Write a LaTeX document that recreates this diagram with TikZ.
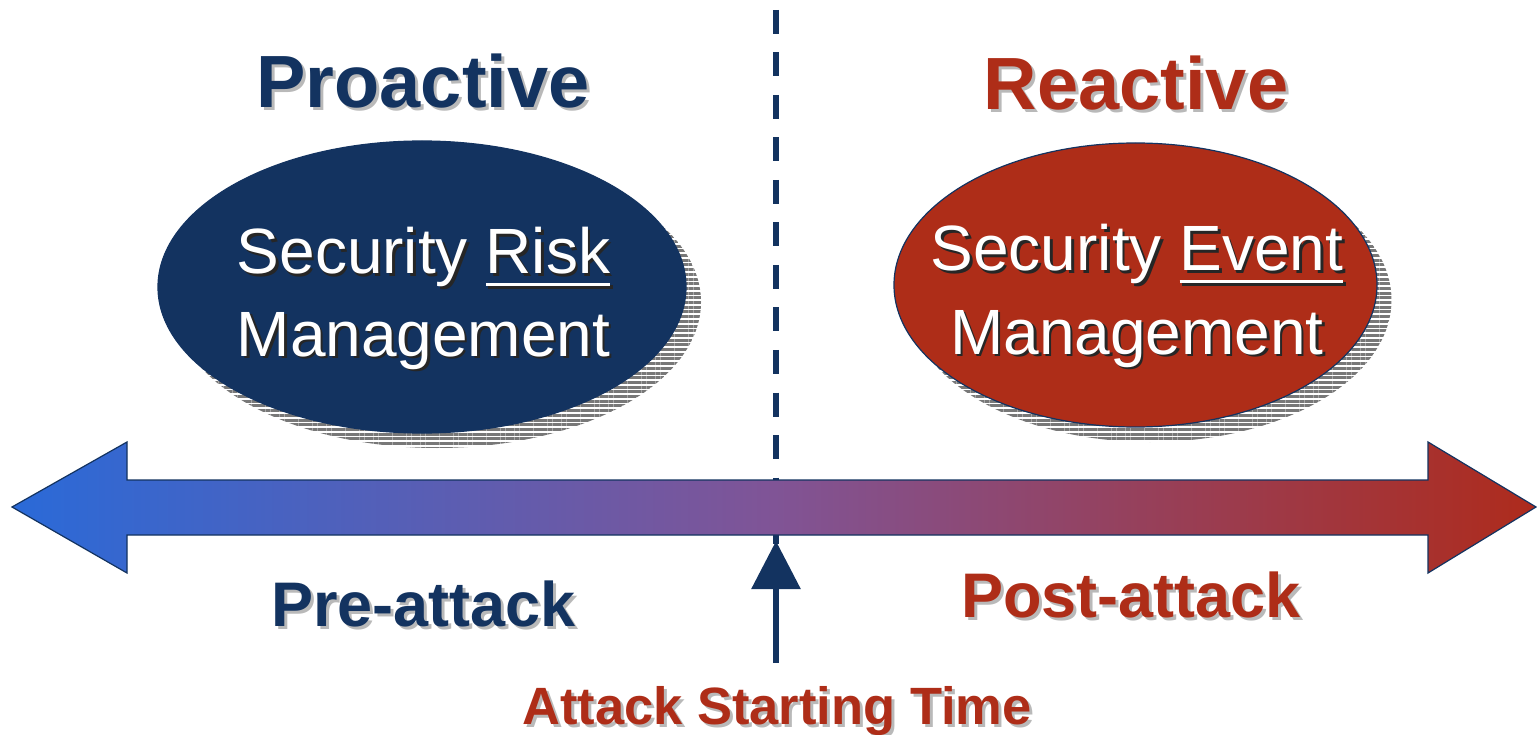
\documentclass[tikz,border=0pt]{standalone}
\usepackage{fontspec}
\setmainfont{Liberation Sans}
\usetikzlibrary{shapes.geometric,patterns.meta,arrows.meta}

\definecolor{navy}{RGB}{19,51,96}
\definecolor{brick}{RGB}{174,45,24}
\definecolor{tblue}{RGB}{42,106,216}
\definecolor{tmid}{RGB}{128,84,150}
\definecolor{tred}{RGB}{174,43,28}
\definecolor{softgray}{RGB}{185,185,185}
\definecolor{stripe}{RGB}{120,120,120}

% underlined word with a rule scaled to the font
\newcommand\ulword[1]{\setbox0\hbox{#1}\rlap{\rule[-0.19em]{\wd0}{0.05em}}\box0}

\tikzset{
  headtext/.style={font=\bfseries\fontsize{74}{80}\selectfont, anchor=base, inner sep=0},
  sidetext/.style={font=\bfseries\fontsize{63}{70}\selectfont, anchor=base, inner sep=0},
  timetext/.style={font=\bfseries\fontsize{52.5}{56}\selectfont, anchor=base, inner sep=0},
  bodytext/.style={font=\fontsize{64}{70}\selectfont, anchor=base, inner sep=0, text=white},
  bodyshadow/.style={bodytext, text=black!85},
  lightshadow/.style={text=softgray},
  blob/.style={ellipse, inner sep=0},
  blobshadow/.style={blob, pattern={Lines[angle=0,distance=4.7pt,line width=3pt]}, pattern color=stripe},
}

\begin{document}
\begin{tikzpicture}[x=1pt,y=-1pt]
\useasboundingbox (0,0) rectangle (1537,735);

% boundary marker between the two phases
\coordinate (dtop) at (776,10);
\coordinate (dbot) at (776,545);
\draw[navy, line width=6, dash pattern=on 24pt off 18.5pt] (dtop) -- (dbot);

% headings
\node[headtext, lightshadow] (pro-s) at (426,111) {Proactive};
\node[headtext, text=navy] (pro) at (423,108) {Proactive};
\node[headtext, lightshadow] (rea-s) at (1139,113) {Reactive};
\node[headtext, text=brick] (rea) at (1136,110) {Reactive};

% risk management ellipse
\node[blobshadow, minimum width=528, minimum height=292] (risk-s) at (437,302) {};
\node[blob, fill=navy, draw=navy, line width=1.2, minimum width=528, minimum height=292] (risk) at (422,287) {};
\node[bodyshadow] (risk1-s) at (426,276.5) {Security \ulword{Risk}};
\node[bodytext] (risk1) at (423.5,274) {Security \ulword{Risk}};
\node[bodyshadow] (risk2-s) at (426,358.5) {Management};
\node[bodytext] (risk2) at (423.5,356) {Management};

% event management ellipse
\node[blobshadow, minimum width=483, minimum height=284] (event-s) at (1150,300) {};
\node[blob, fill=brick, draw=navy, line width=1.2, minimum width=483, minimum height=284] (event) at (1135.5,285) {};
\node[bodyshadow] (event1-s) at (1139.5,273.5) {Security \ulword{Event}};
\node[bodytext] (event1) at (1137,271) {Security \ulword{Event}};
\node[bodyshadow] (event2-s) at (1139.5,356.5) {Management};
\node[bodytext] (event2) at (1137,354) {Management};

% time line as a double-headed block arrow
\draw[navy, line width=1.2, line join=miter,
      left color=tblue, right color=tred, middle color=tmid]
  (12,507) -- (127,442) -- (127,480) -- (1428,480) -- (1428,442)
  -- (1536,507) -- (1428,573) -- (1428,535) -- (127,535) -- (127,573) -- cycle;

% phase labels
\node[sidetext, lightshadow] (pre-s) at (426.5,629) {Pre-attack};
\node[sidetext, text=navy] (pre) at (423.5,626) {Pre-attack};
\node[sidetext, lightshadow] (post-s) at (1134,620) {Post-attack};
\node[sidetext, text=brick] (post) at (1131,617) {Post-attack};

% attack start pointer
\coordinate (atkfoot) at (776,663);
\coordinate (atktip) at (776,541);
\draw[navy, line width=6, -{Triangle[width=48pt,length=48pt]}] (atkfoot) -- (atktip);
\node[timetext, lightshadow] (ast-s) at (780,727) {Attack Starting Time};
\node[timetext, text=brick] (ast) at (777,724) {Attack Starting Time};
\end{tikzpicture}
\end{document}
